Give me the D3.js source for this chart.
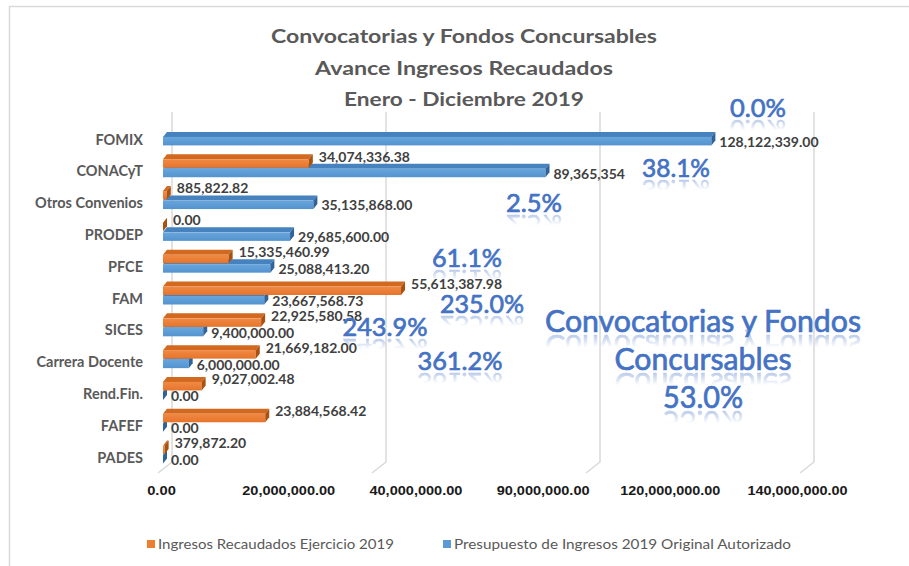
<!DOCTYPE html>
<html><head><meta charset="utf-8">
<script src="https://cdn.jsdelivr.net/npm/d3@7"></script>
<style>
html,body{margin:0;padding:0;background:#fff;}
svg{display:block;}
</style></head>
<body>
<svg id="chart" width="909" height="566"></svg>
<script>
// ---------- DATA ----------
const categories = ["FOMIX","CONACyT","Otros Convenios","PRODEP","PFCE","FAM","SICES","Carrera Docente","Rend.Fin.","FAFEF","PADES"];
const recaudados = [null, 34074336.38, 885822.82, 0, 15335460.99, 55613387.98, 22925580.58, 21669182.00, 9027002.48, 23884568.42, 379872.20];
const presupuesto = [128122339.00, 89365354, 35135868.00, 29685600.00, 25088413.20, 23667568.73, 9400000.00, 6000000.00, 0, 0, 0];
const presupuestoDecimals = [2,0,2,2,2,2,2,2,2,2,2];
const tickLabels = ["0.00","20,000,000.00","40,000,000.00","90,000,000.00","120,000,000.00","140,000,000.00"];
const gridValues = [0, 50e6, 100e6, 150e6];
const seriesNames = ["Ingresos Recaudados Ejercicio 2019","Presupuesto de Ingresos 2019 Original Autorizado"];
const titleLines = ["Convocatorias y Fondos Concursables","Avance Ingresos Recaudados","Enero - Diciembre 2019"];
const totalLabel = ["Convocatorias y Fondos","Concursables"];

// ---------- LAYOUT ----------
const svg = d3.select("#chart");
const x = d3.scaleLinear().domain([0,150e6]).range([163, 805]);
const y = d3.scaleBand().domain(categories).range([124, 474]);
const tickScale = d3.scalePoint().domain(tickLabels).range([161, 797]);
const DX = 4, DY = -5;
const colors = {
  orange: {front:"#ED7D31", top:"#D2691F", end:"#A9520F"},
  blue:   {front:"#5B9BD5", top:"#4582BE", end:"#2F6399"}
};
const defs = svg.append("defs");
function grad(id, c1, c2){
  const g = defs.append("linearGradient").attr("id",id).attr("x1",0).attr("y1",0).attr("x2",0).attr("y2",1);
  g.append("stop").attr("offset","0%").attr("stop-color",c1);
  g.append("stop").attr("offset","100%").attr("stop-color",c2);
}
grad("gOrange","#F08A45","#E6742A");
grad("gBlue","#68A5DC","#5393CF");

// border
svg.append("rect").attr("x",9.5).attr("y",6.5).attr("width",1000).attr("height",1000)
  .attr("fill","none").attr("stroke","#d9d9d9").attr("stroke-width",1.5);

// title
const titleBase = [43, 75, 106];
const titleWidths = [386, 298, 240];
svg.append("g").selectAll("text").data(titleLines).join("text")
  .attr("x",464).attr("y",(d,i)=>titleBase[i])
  .attr("text-anchor","middle")
  .attr("font-family","Lato, 'Open Sans', sans-serif").attr("font-weight",700)
  .attr("font-size",19).attr("fill","#595959")
  .attr("textLength",(d,i)=>titleWidths[i]).attr("lengthAdjust","spacingAndGlyphs")
  .text(d=>d);

// gridlines (3D walls)
svg.append("g").selectAll("path").data(gridValues).join("path")
  .attr("d", v => `M${x(v)+9},112 L${x(v)+9},462 L${x(v)-5},473`)
  .attr("fill","none").attr("stroke","#d9d9d9").attr("stroke-width",1.5);

// bars
const rows = categories.map((c,i)=>({cat:c, rec:recaudados[i], pre:presupuesto[i], dec:presupuestoDecimals[i]}));
const barsG = svg.append("g");
function bar3d(g, v, yTop, h, col, gradId){
  if (v === null || v === undefined) return;
  const x0 = x(0), x1 = x(v), yb = yTop + h;
  g.append("path").attr("d",`M${x0},${yTop} L${x0+DX},${yTop+DY} L${x1+DX},${yTop+DY} L${x1},${yTop} Z`)
    .attr("fill",col.top);
  g.append("rect").attr("x",x0).attr("y",yTop).attr("width",Math.max(0,x1-x0)).attr("height",h)
    .attr("fill",`url(#${gradId})`);
  g.append("path").attr("d",`M${x1},${yTop} L${x1+DX},${yTop+DY} L${x1+DX},${yb+DY} L${x1},${yb} Z`)
    .attr("fill",col.end);
}
rows.forEach(r=>{
  const cy = y(r.cat) + y.bandwidth()/2;
  const g = barsG.append("g");
  bar3d(g, r.pre, cy-3, 8.5, colors.blue, "gBlue");
  bar3d(g, r.rec, cy-12.5, 8.5, colors.orange, "gOrange");
});

// value labels
const lblFont = "Lato, 'Open Sans', sans-serif";
const labelsG = svg.append("g").attr("font-family",lblFont).attr("font-weight",700)
  .attr("font-size",14).attr("fill","#404040");
rows.forEach(r=>{
  const cy = y(r.cat) + y.bandwidth()/2;
  if (r.rec !== null) {
    labelsG.append("text").attr("x",x(r.rec)+10).attr("y",cy-15).attr("dy","0.35em")
      .text(d3.format(",.2f")(r.rec));
  }
  if (r.pre !== null) {
    labelsG.append("text").attr("x",x(r.pre)+8).attr("y",cy+2).attr("dy","0.35em")
      .text(d3.format(`,.${r.dec}f`)(r.pre));
  }
});

// category axis
const yAxis = svg.append("g").attr("transform","translate(150,0)")
  .call(d3.axisLeft(y).tickSize(0).tickPadding(7));
yAxis.select(".domain").remove();
yAxis.selectAll("text").attr("font-family",lblFont).attr("font-weight",700)
  .attr("font-size",14.5).attr("fill","#595959");

// value axis tick labels
const xAxis = svg.append("g").attr("transform","translate(0,486)")
  .call(d3.axisBottom(tickScale).tickSize(0).tickPadding(0));
xAxis.select(".domain").remove();
xAxis.selectAll("text").attr("font-family","'Liberation Sans', Arial, sans-serif").attr("font-weight",700)
  .attr("font-size",12).attr("fill","#1a1a1a")
  .attr("textLength",d=>d.length*7.15).attr("lengthAdjust","spacingAndGlyphs");

// percentage annotations (floating text boxes)
const pct = d3.format(".1%");
const ratio = (i)=> (recaudados[i]||0)/presupuesto[i];
const annotations = [
  {text:pct(ratio(0)), x:758, y:117, size:25, w:56},
  {text:pct(ratio(1)), x:676, y:177, size:25, w:68},
  {text:pct(ratio(2)), x:534, y:212, size:25, w:56},
  {text:pct(ratio(4)), x:467, y:267, size:25, w:70},
  {text:pct(ratio(5)), x:482, y:313, size:25, w:84},
  {text:pct(ratio(6)), x:385, y:336, size:25, w:85},
  {text:pct(ratio(7)), x:460, y:370, size:25, w:85},
];
const totRatio = d3.sum(recaudados.map(v=>v||0))/d3.sum(presupuesto);
const bigAnn = [
  {text:totalLabel[0], x:703, y:332, size:30, w:316},
  {text:totalLabel[1], x:703, y:370, size:30, w:177},
  {text:pct(totRatio), x:703, y:408, size:30, w:80},
];
const annG = svg.append("g").attr("font-family",lblFont).attr("text-anchor","middle").attr("font-weight",400);
let annId = 0;
function ann(a){
  const id = "ann" + (annId++);
  annG.append("text").attr("id",id).attr("x",a.x).attr("y",a.y).attr("font-size",a.size)
    .attr("fill","#4472C4").attr("stroke","#4472C4").attr("stroke-width",0.7)
    .attr("textLength",a.w).attr("lengthAdjust","spacingAndGlyphs").text(a.text);
  // reflection effect (reuse of the same text, mirrored and faded)
  const m = defs.append("mask").attr("id","m"+id).attr("maskUnits","userSpaceOnUse")
    .attr("x",0).attr("y",0).attr("width",909).attr("height",566);
  const mg = defs.append("linearGradient").attr("id","mg"+id).attr("gradientUnits","userSpaceOnUse")
    .attr("x1",0).attr("y1",a.y+2).attr("x2",0).attr("y2",a.y+2+a.size*0.45);
  mg.append("stop").attr("offset","0%").attr("stop-color","#fff").attr("stop-opacity",0.4);
  mg.append("stop").attr("offset","100%").attr("stop-color","#fff").attr("stop-opacity",0);
  m.append("rect").attr("x",0).attr("y",0).attr("width",909).attr("height",566).attr("fill",`url(#mg${id})`);
  annG.insert("g",":first-child").attr("mask",`url(#m${id})`)
    .append("use").attr("href","#"+id)
    .attr("transform",`translate(0,${2*a.y+3}) scale(1,-1)`);
}
annotations.forEach(ann);
bigAnn.forEach(ann);

// legend
const legendItems = [
  {name:seriesNames[0], color:colors.orange.front, x:147, w:236},
  {name:seriesNames[1], color:colors.blue.front, x:443, w:337},
];
const lg = svg.append("g");
legendItems.forEach(it=>{
  lg.append("rect").attr("x",it.x).attr("y",540).attr("width",8).attr("height",8).attr("fill",it.color);
  lg.append("text").attr("x",it.x+11).attr("y",544).attr("dy","0.35em")
    .attr("font-family",lblFont).attr("font-size",13).attr("fill","#595959")
    .attr("textLength",it.w).attr("lengthAdjust","spacingAndGlyphs").text(it.name);
});
</script>
</body></html>
